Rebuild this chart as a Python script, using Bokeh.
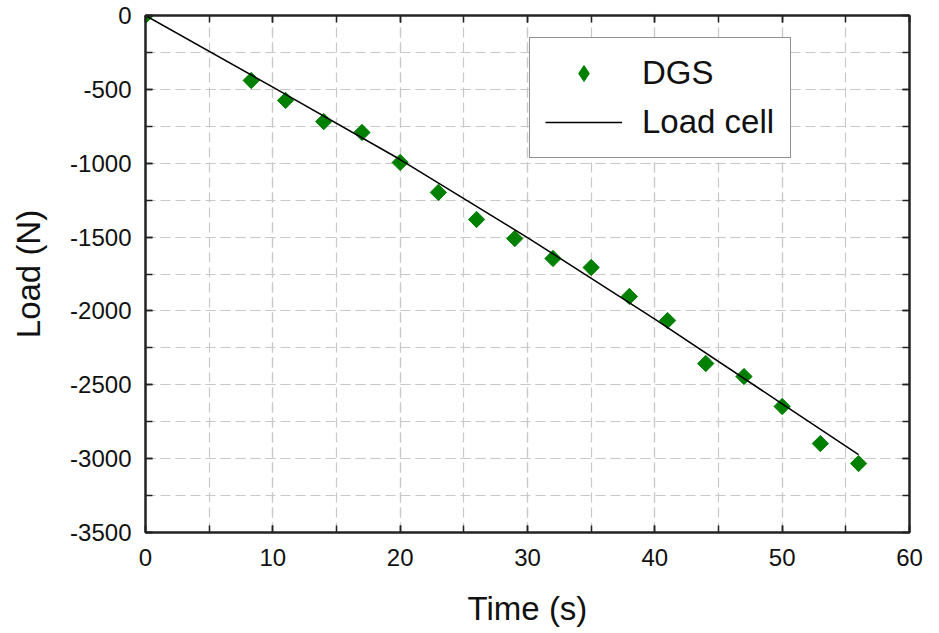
from bokeh.plotting import figure
from bokeh.models import (Range1d, SingleIntervalTicker, LinearAxis, Legend, LegendItem,
                          PrintfTickFormatter, CustomJSTickFormatter)
from bokeh.embed import file_html
from bokeh.resources import INLINE
import numpy as np

# DGS measurements (markers)
dgs_time = [0, 8.3, 11, 14, 17, 20, 23, 26, 29, 32, 35, 38, 41, 44, 47, 50, 53, 56]
dgs_load = [0, -440, -575, -718, -792, -995, -1198, -1381, -1510, -1645, -1706,
            -1902, -2065, -2356, -2444, -2647, -2898, -3033]

# Load cell reference (line)
cell_time = [0, 10, 20, 30, 40, 50, 56]
cell_load = [0, -485, -975, -1503, -2055, -2629, -2972]

x_ticks_interval = 10
y_ticks_interval = 500

FONT = "Liberation Sans"

p = figure(frame_width=764, frame_height=517, output_backend="svg", toolbar_location=None,
           x_range=Range1d(0, 60), y_range=Range1d(-3500, 0),
           min_border_left=145, min_border_right=21, min_border_top=15, min_border_bottom=96)
p.xaxis.visible = False
p.yaxis.visible = False

xt = SingleIntervalTicker(interval=x_ticks_interval, num_minor_ticks=2)
yt = SingleIntervalTicker(interval=y_ticks_interval, num_minor_ticks=2)

def style_axis(ax, labels=True):
    ax.axis_line_color = "#222222"
    ax.axis_line_width = 2
    ax.major_tick_in = 7
    ax.major_tick_out = 0
    ax.minor_tick_in = 7
    ax.minor_tick_out = 0
    ax.major_tick_line_color = "#222222"
    ax.minor_tick_line_color = "#222222"
    ax.major_tick_line_width = 1.5
    ax.minor_tick_line_width = 1.5
    if labels:
        ax.formatter = PrintfTickFormatter(format="%d")
        ax.major_label_text_font = FONT
        ax.major_label_text_font_size = "24px"
        ax.major_label_text_color = "#111111"
        ax.major_label_standoff = 14
        ax.axis_label_text_font = FONT
        ax.axis_label_text_font_size = "33px"
        ax.axis_label_text_font_style = "normal"
        ax.axis_label_text_color = "#111111"
    else:
        ax.formatter = CustomJSTickFormatter(code="return ''")
        ax.major_label_standoff = 0

xb = LinearAxis(ticker=xt, axis_label="Time (s)")
style_axis(xb)
xb.major_label_standoff = 16
xb.axis_label_standoff = 21
yl = LinearAxis(ticker=yt, axis_label="Load (N)")
style_axis(yl)
yl.axis_label_standoff = 20
xa = LinearAxis(ticker=xt)
style_axis(xa, labels=False)
yr = LinearAxis(ticker=yt)
style_axis(yr, labels=False)
p.add_layout(xb, "below")
p.add_layout(yl, "left")
p.add_layout(xa, "above")
p.add_layout(yr, "right")

p.xgrid.ticker = xt
p.ygrid.ticker = yt
for g in (p.xgrid[0], p.ygrid[0]):
    g.grid_line_color = "#c8c8c8"
    g.grid_line_dash = "10 5"
    g.grid_line_width = 1.2
    g.minor_grid_line_color = "#c8c8c8"
    g.minor_grid_line_dash = "10 5"
    g.minor_grid_line_width = 1.2

p.outline_line_color = "#222222"
p.outline_line_width = 2

# narrow diamonds (hidden beneath the rotated squares) give the legend its diamond glyph
dia = p.scatter(dgs_time, dgs_load, marker="diamond", size=15,
                fill_color="#008000", line_color="#008000")
pts = p.scatter(dgs_time, dgs_load, marker="square", angle=np.pi / 4, size=11.5,
                fill_color="#008000", line_color="#008000")
ln = p.line(cell_time, cell_load, line_color="black", line_width=1.5)

legend = Legend(items=[LegendItem(label="DGS", renderers=[dia]),
                       LegendItem(label="Load cell", renderers=[ln])],
                location=(384, 374))
legend.label_text_font = FONT
legend.label_text_font_size = "33px"
legend.label_text_color = "#111111"
legend.glyph_width = 77
legend.glyph_height = 40
legend.label_height = 40
legend.label_width = 133
legend.label_standoff = 20
legend.spacing = 9
legend.padding = 15
legend.margin = 0
legend.border_line_color = "#222222"
legend.border_line_width = 1.5
legend.background_fill_alpha = 1
p.add_layout(legend, "center")

open("out.html", "w").write(file_html(p, INLINE))
